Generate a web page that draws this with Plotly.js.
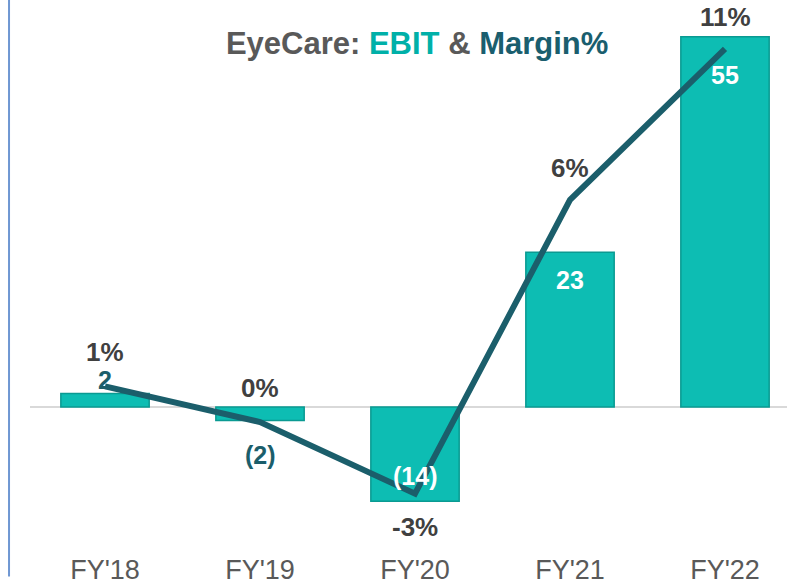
<!DOCTYPE html>
<html>
<head>
<meta charset="utf-8">
<script src="https://cdn.plot.ly/plotly-3.0.1.min.js"></script>
<style>html,body{margin:0;padding:0;background:#fff;}#chart{width:787px;height:585px;}</style>
</head>
<body>
<div id="chart"></div>
<script>
var categories = ["FY'18", "FY'19", "FY'20", "FY'21", "FY'22"];
var ebit = [2, -2, -14, 23, 55];
var ebitLabels = ["2", "(2)", "(14)", "23", "55"];
var margin = [0.63, -0.46, -2.65, 6.33, 10.95];
var marginLabels = ["1%", "0%", "-3%", "6%", "11%"];

// label placement (style, not data)
var ebitShift = [14, -35, 25, -28, -38];
var ebitColor = ["#1B5E6B", "#1B5E6B", "#ffffff", "#ffffff", "#ffffff"];
var marginShift = [34, 34, -33, 32, 32];

var teal = "#0DBDB3";
var dark = "#1B5E6B";
var FONT = "Liberation Sans, Arial, sans-serif";

var bars = {
  type: "bar", x: categories, y: ebit, yaxis: "y",
  marker: {color: teal, line: {color: "#0A9A92", width: 1.5}},
  hoverinfo: "skip", showlegend: false
};
var line = {
  type: "scatter", mode: "lines", x: categories, y: margin, yaxis: "y2",
  line: {color: dark, width: 6},
  hoverinfo: "skip", showlegend: false
};

var annotations = [];
for (var i = 0; i < categories.length; i++) {
  annotations.push({
    x: categories[i], y: ebit[i], xref: "x", yref: "y", text: "<b>" + ebitLabels[i] + "</b>",
    showarrow: false, yshift: ebitShift[i], xanchor: "center", yanchor: "middle",
    font: {family: FONT, size: 25, color: ebitColor[i]}
  });
  annotations.push({
    x: categories[i], y: margin[i], xref: "x", yref: "y2", text: "<b>" + marginLabels[i] + "</b>",
    showarrow: false, yshift: marginShift[i], xanchor: "center", yanchor: "middle",
    font: {family: FONT, size: 26, color: "#404040"}
  });
}

var layout = {
  width: 787, height: 585,
  margin: {l: 30, r: 0, t: 20, b: 40},
  paper_bgcolor: "#ffffff", plot_bgcolor: "rgba(0,0,0,0)",
  bargap: 0.43,
  title: {
    text: "<b><span style='color:#595959'>EyeCare: </span><span style='color:#00B0A8'>EBIT</span><span style='color:#595959'> & </span><span style='color:#1A5E6E'>Margin%</span></b>",
    font: {family: FONT, size: 31},
    xref: "container", x: 0.53, xanchor: "center",
    yref: "container", y: 0.927, yanchor: "middle"
  },
  xaxis: {
    type: "category", range: [-0.484, 4.4], showgrid: false, zeroline: false, showline: false,
    ticks: "", ticklabelstandoff: 6,
    tickfont: {family: FONT, size: 27, color: "#595959"}
  },
  yaxis: {
    range: [-20.5, 57.5], showgrid: false, showticklabels: false, ticks: "",
    zeroline: true, zerolinecolor: "#D9D9D9", zerolinewidth: 2, showline: false
  },
  yaxis2: {
    range: [-4.22, 11.83], overlaying: "y", side: "right", showgrid: false,
    showticklabels: false, ticks: "", zeroline: false, showline: false
  },
  shapes: [{
    type: "line", xref: "paper", yref: "paper",
    x0: -0.0277, x1: -0.0277, y0: 1.038, y1: -0.06,
    line: {color: "#6F97D2", width: 2}
  }],
  annotations: annotations
};

Plotly.newPlot("chart", [bars, line], layout, {displayModeBar: false, staticPlot: true});
</script>
</body>
</html>
